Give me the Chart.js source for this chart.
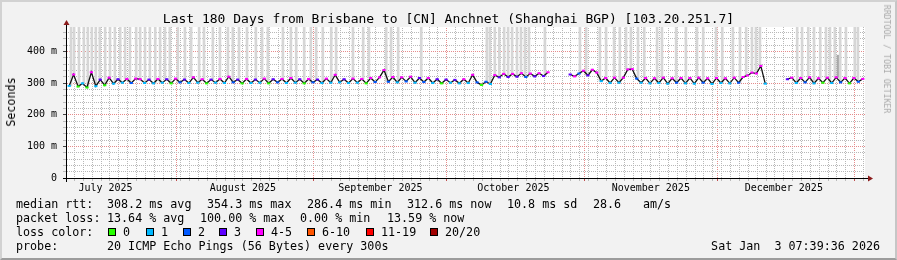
<!DOCTYPE html>
<html>
<head>
<meta charset="utf-8">
<title>Smokeping 180 days</title>
<script src="https://cdn.jsdelivr.net/npm/chart.js@4.4.1/dist/chart.umd.min.js"></script>
<style>
  html, body { margin: 0; padding: 0; background: #f2f2f2; }
  #wrap { position: relative; width: 897px; height: 260px; background: #f2f2f2; overflow: hidden;
          font-family: "DejaVu Sans Mono", monospace; color: #000; }
  #chart { position: absolute; left: 0; top: 0; }
  .txt { position: absolute; white-space: pre; font-size: 11.7px; line-height: 14px; }
  #title { position: absolute; left: 0; top: 11px; width: 897px; text-align: center; white-space: pre;
           font-size: 13px; line-height: 16px; }
  #ylab { position: absolute; left: 11px; top: 102px; white-space: pre; font-size: 11.7px; line-height: 14px;
          transform: translate(-50%, -50%) rotate(-90deg); }
  #brand { position: absolute; left: 887px; top: 59px; white-space: pre; font-size: 8.2px; line-height: 10px;
           color: #a9a9a9; transform: translate(-50%, -50%) rotate(90deg); }
  .sw { position: absolute; top: 228px; width: 6px; height: 6px; border: 1px solid #000; }
  #frame { position: absolute; left: 0; top: 0; width: 897px; height: 260px; box-sizing: border-box; pointer-events: none;
           border-top: 2px solid #d2d2d2; border-left: 2px solid #d2d2d2; border-right: 2px solid #c6c6c6; border-bottom: 2px solid #9c9c9c; }
</style>
</head>
<body>
<div id="wrap">
  <canvas id="chart" width="897" height="260"></canvas>
  <div id="title">Last 180 Days from Brisbane to [CN] Anchnet (Shanghai BGP) [103.20.251.7]</div>
  <div id="ylab">Seconds</div>
  <div id="brand">RRDTOOL / TOBI OETIKER</div>

  <div class="txt" style="left:16px;top:197px">median rtt:</div>
  <div class="txt" style="left:107px;top:197px">308.2 ms avg</div>
  <div class="txt" style="left:207px;top:197px">354.3 ms max</div>
  <div class="txt" style="left:307px;top:197px">286.4 ms min</div>
  <div class="txt" style="left:407px;top:197px">312.6 ms now</div>
  <div class="txt" style="left:507px;top:197px">10.8 ms sd</div>
  <div class="txt" style="left:593px;top:197px">28.6</div>
  <div class="txt" style="left:643px;top:197px">am/s</div>

  <div class="txt" style="left:16px;top:211px">packet loss:</div>
  <div class="txt" style="left:107px;top:211px">13.64 % avg</div>
  <div class="txt" style="left:200px;top:211px">100.00 % max</div>
  <div class="txt" style="left:300px;top:211px">0.00 % min</div>
  <div class="txt" style="left:387px;top:211px">13.59 % now</div>

  <div class="txt" style="left:16px;top:225px">loss color:</div>
  <div id="lossLegend"></div>

  <div class="txt" style="left:16px;top:239px">probe:</div>
  <div class="txt" style="left:107px;top:239px">20 ICMP Echo Pings (56 Bytes) every 300s</div>
  <div class="txt" style="right:17px;top:239px">Sat Jan  3 07:39:36 2026</div>

  <div id="frame"></div>
</div>
<script>
// x axis is in days since the start of the window (Jul 7 2025 07:39)
const spanDays = 180;
const yMax = 477; // ms, top of the rrd canvas

const monthLabels = ['July 2025', 'August 2025', 'September 2025', 'October 2025', 'November 2025', 'December 2025'];
const monthLabelDays = [8.68, 39.68, 70.68, 100.68, 131.68, 161.68];
const monthStartDays = [24.68, 55.68, 85.68, 116.68, 146.68, 177.68];
const firstMinorDay = 1.68; // Jul 9 00:00, minor grid every 2 days

// median rtt in ms, one sample per day (null = no data)
const medianRtt = [
  291, 327, 289, 299, 286, 334, 290, 311, 293, 317,
  298, 312, 301, 313, 300, 314, 312, 300, 311, 299,
  313, 301, 312, 299, 314, 302, 311, 300, 318, 301,
  312, 299, 311, 301, 313, 300, 320, 302, 311, 299,
  313, 300, 311, 301, 314, 299, 312, 302, 313, 300,
  316, 301, 312, 299, 313, 302, 311, 300, 314, 301,
  326, 302, 312, 300, 314, 301, 313, 299, 316, 303,
  318, 341, 304, 319, 302, 318, 305, 320, 301, 316,
  303, 316, 300, 312, 299, 311, 301, 310, 299, 312,
  300, 326, 302, 294, 304, 297, 325, 318, 329, 319,
  329, 320, 331, 319, 330, 321, 331, 322, 334, null,
  null, null, null, 327, 321, 330, 339, 324, 342, 333,
  306, 316, 300, 317, 301, 317, 343, 344, 314, 301,
  316, 299, 315, 300, 317, 298, 315, 301, 316, 299,
  316, 298, 317, 301, 315, 297, 316, 300, 315, 299,
  317, 301, 319, 324, 333, 330, 354, 298, null, null,
  null, null, 312, 317, 300, 316, 302, 318, 299, 315,
  301, 317, 300, 318, 302, 316, 299, 316, 304, 313
];

// lost pings (of 20) per sample
const lossCount = [
  1, 5, 0, 1, 0, 5, 1, 3, 0, 4,
  1, 3, 1, 4, 2, 4, 5, 1, 3, 1,
  4, 1, 3, 0, 4, 2, 3, 1, 5, 1,
  4, 0, 3, 1, 4, 1, 5, 2, 3, 0,
  4, 1, 3, 1, 4, 0, 3, 2, 4, 1,
  4, 1, 3, 0, 4, 2, 3, 1, 4, 1,
  5, 1, 3, 1, 4, 1, 4, 0, 4, 2,
  4, 5, 2, 4, 1, 4, 2, 4, 1, 3,
  2, 4, 1, 3, 0, 3, 1, 3, 1, 4,
  1, 4, 2, 0, 2, 1, 4, 3, 4, 3,
  4, 3, 5, 2, 4, 3, 5, 3, 5, null,
  null, null, null, 3, 4, 2, 5, 3, 5, 4,
  1, 4, 1, 4, 1, 4, 5, 5, 2, 1,
  4, 1, 4, 1, 4, 1, 4, 2, 4, 1,
  4, 1, 5, 2, 4, 1, 4, 1, 4, 1,
  4, 2, 4, 4, 5, 4, 5, 1, null, null,
  null, null, 3, 4, 1, 4, 2, 4, 1, 4,
  0, 4, 1, 5, 2, 4, 0, 4, 2, 4
];

// high smoke (ping spread running off the top of the graph)
const smokeDays = [
  0.9, 1.6, 2.7, 3.8, 4.7, 5.6, 6.5, 7.4, 8.6, 9.7, 10.8, 12.0, 13.1, 14.2, 15.6, 16.5, 17.6, 18.7,
  19.9, 21.0, 22.1, 23.2, 25.0, 26.6, 28.0, 29.8, 30.9, 32.9, 34.5, 36.3, 37.4, 38.8, 40.6, 42.6,
  44.0, 45.3, 48.7, 50.5, 51.7, 53.5, 55.0, 56.2, 57.7, 59.6, 60.7, 64.5, 66.8, 68.1, 72.0, 73.1,
  74.7, 79.9, 94.7, 95.4, 96.5, 97.5, 98.6, 99.5, 100.4, 101.5, 102.4, 103.3, 104.2, 107.8, 115.7,
  117.1, 120.2, 121.6, 123.4, 124.7, 126.1, 127.2, 128.8, 130.2, 133.1, 134.2, 137.4, 139.6, 142.1,
  143.5, 146.4, 147.8, 150.2, 151.8, 153.2, 154.5, 155.4, 156.3, 164.7, 165.8, 167.2, 168.5, 169.9,
  171.2, 172.1, 173.2, 173.9, 174.4, 175.7, 177.7, 178.4
];
const smokeTops = [
  477, 477, 477, 477, 477, 477, 477, 477, 477, 477, 477, 477, 477, 477, 477, 477, 477, 477,
  477, 477, 477, 477, 477, 477, 477, 477, 477, 477, 477, 477, 477, 477, 477, 477,
  477, 477, 477, 477, 477, 477, 477, 477, 477, 477, 477, 477, 477, 477, 477, 477,
  477, 477, 477, 477, 477, 477, 477, 477, 477, 477, 477, 477, 477, 477, 477,
  477, 477, 477, 477, 477, 477, 477, 477, 477, 477, 477, 477, 477, 477,
  477, 477, 477, 477, 477, 477, 477, 477, 477, 477, 477, 477, 477, 477,
  477, 477, 477, 388, 477, 477, 477, 477
];

const lossBins = [0, 1, 2, 3, 5, 10, 19, 20];
const lossNames = ['0', '1', '2', '3', '4-5', '6-10', '11-19', '20/20'];
const lossColors = ['#26ff00', '#00b8ff', '#0059ff', '#5e00ff', '#ff00ff', '#ff5500', '#ff0000', '#a10000'];
const swatchLeft = [108, 146, 183, 219, 256, 307, 366, 430];

function lossColor(n){
  for(let i = 0; i < lossBins.length; i++){
    if(n <= lossBins[i]) return lossColors[i];
  }
  return lossColors[lossColors.length - 1];
}

// legend swatches
(function(){
  const box = document.getElementById('lossLegend');
  lossNames.forEach((name, i) => {
    const sw = document.createElement('div');
    sw.className = 'sw';
    sw.style.left = swatchLeft[i] + 'px';
    sw.style.background = lossColors[i];
    box.appendChild(sw);
    const t = document.createElement('div');
    t.className = 'txt';
    t.style.left = (swatchLeft[i] + 15) + 'px';
    t.style.top = '225px';
    t.textContent = name;
    box.appendChild(t);
  });
})();

// tick lists
const xTicks = [];
for(let d = firstMinorDay; d < spanDays; d += 2) xTicks.push({value: d, kind: 'minor'});
monthStartDays.forEach(d => xTicks.push({value: d, kind: 'month'}));
monthLabelDays.forEach((d, i) => xTicks.push({value: d, kind: 'label', text: monthLabels[i]}));
xTicks.sort((a, b) => a.value - b.value);

const yTicks = [];
for(let v = 0; v < yMax; v += 20) yTicks.push(v);

// rrdtool style dotted grid: a 2x2 checker pattern gives dots on 1px lines in both directions
function dots(color){
  const c = document.createElement('canvas');
  c.width = 2; c.height = 2;
  const g = c.getContext('2d');
  g.fillStyle = color;
  g.fillRect(0, 0, 1, 1);
  g.fillRect(1, 1, 1, 1);
  return g.createPattern(c, 'repeat');
}
const GRID_MINOR = dots('#b8b8b8');
const GRID_MAJOR = dots('#e58c8c');
const NONE = 'rgba(0,0,0,0)';
const MONO = '"DejaVu Sans Mono", monospace';

const rrdFrame = {
  id: 'rrdFrame',
  beforeDraw(chart){
    const {ctx, chartArea: a} = chart;
    ctx.save();
    ctx.fillStyle = '#ffffff';
    ctx.fillRect(a.left, a.top, a.right - a.left, a.bottom - a.top);
    ctx.restore();
  },
  afterDraw(chart){
    const {ctx, chartArea: a} = chart;
    ctx.save();
    ctx.strokeStyle = '#000';
    ctx.lineWidth = 1;
    ctx.beginPath();
    ctx.moveTo(a.left - 4, a.bottom + 0.5);
    ctx.lineTo(a.right + 4, a.bottom + 0.5);
    ctx.moveTo(a.left - 0.5, a.bottom + 4);
    ctx.lineTo(a.left - 0.5, a.top - 4);
    ctx.stroke();
    ctx.fillStyle = '#8b1c1c';
    ctx.beginPath();
    ctx.moveTo(a.left - 3.5, a.top - 2);
    ctx.lineTo(a.left + 2.5, a.top - 2);
    ctx.lineTo(a.left - 0.5, a.top - 7);
    ctx.closePath();
    ctx.fill();
    ctx.beginPath();
    ctx.moveTo(a.right + 3, a.bottom - 2.5);
    ctx.lineTo(a.right + 3, a.bottom + 3.5);
    ctx.lineTo(a.right + 8, a.bottom + 0.5);
    ctx.closePath();
    ctx.fill();
    ctx.restore();
  }
};

Chart.defaults.font.family = MONO;
Chart.defaults.color = '#000';

new Chart(document.getElementById('chart'), {
  type: 'line',
  data: {
    datasets: [
      {
        type: 'line',
        order: 1,
        data: medianRtt.map((v, i) => ({x: i + 0.5, y: v})),
        borderColor: '#111',
        borderWidth: 1.3,
        tension: 0,
        spanGaps: false,
        pointStyle: 'line',
        pointRadius: 1.6,
        pointHoverRadius: 1.6,
        pointBorderWidth: 2,
        pointBorderColor: ctx => lossColor(lossCount[ctx.dataIndex])
      },
      {
        type: 'bar',
        order: 2,
        data: smokeDays.map((d, i) => ({x: d, y: [medianRtt[Math.floor(d)] ?? 305, smokeTops[i]]})),
        backgroundColor: ctx => (smokeTops[ctx.dataIndex] < yMax ? '#a8a8a8' : '#d6d6d6'),
        borderWidth: 0,
        barThickness: 2,
        grouped: false
      }
    ]
  },
  options: {
    responsive: false,
    animation: false,
    events: [],
    layout: { padding: { left: 0, top: 27, right: 32, bottom: 0 } },
    plugins: { legend: { display: false }, title: { display: false }, tooltip: { enabled: false } },
    scales: {
      x: {
        type: 'linear',
        min: 0,
        max: spanDays,
        offset: false,
        afterBuildTicks: s => { s.ticks = xTicks.map(t => ({value: t.value, kind: t.kind, text: t.text})); },
        afterFit: s => { s.height = 82; },
        ticks: {
          autoSkip: false,
          maxRotation: 0,
          minRotation: 0,
          padding: 1,
          font: { size: 10, family: MONO },
          color: '#000',
          callback: (v, i, ticks) => (ticks[i] && ticks[i].text) ? ticks[i].text : ''
        },
        grid: {
          offset: false,
          color: ctx => ctx.tick.kind === 'month' ? GRID_MAJOR : (ctx.tick.kind === 'minor' ? GRID_MINOR : NONE),
          tickColor: ctx => ctx.tick.kind === 'month' ? '#c05050' : (ctx.tick.kind === 'minor' ? '#bbbbbb' : NONE),
          tickLength: 3,
          lineWidth: 1
        },
        border: { display: false }
      },
      y: {
        type: 'linear',
        min: 0,
        max: yMax,
        afterBuildTicks: s => { s.ticks = yTicks.map(v => ({value: v})); },
        afterFit: s => { s.width = 67; },
        ticks: {
          autoSkip: false,
          padding: 6,
          font: { size: 10, family: MONO },
          color: '#000',
          callback: v => v === 0 ? '0' : (v % 100 === 0 ? v + ' m' : '')
        },
        grid: {
          color: ctx => ctx.tick.value % 100 === 0 ? GRID_MAJOR : GRID_MINOR,
          tickColor: ctx => ctx.tick.value % 100 === 0 ? '#444444' : '#bbbbbb',
          tickLength: 4,
          lineWidth: 1
        },
        border: { display: false }
      }
    }
  },
  plugins: [rrdFrame]
});
</script>
</body>
</html>
